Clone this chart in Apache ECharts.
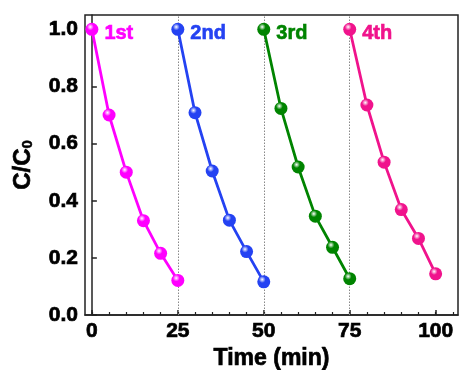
<!DOCTYPE html>
<html>
<head>
<meta charset="utf-8">
<script src="https://cdn.jsdelivr.net/npm/echarts@6/dist/echarts.min.js"></script>
<style>
html,body{margin:0;padding:0;background:#fff;}
#chart{width:459px;height:370px;}
</style>
</head>
<body>
<div id="chart"></div>
<script>
var runNames = ['1st', '2nd', '3rd', '4th'];
var runColors = ['#FF00FF', '#2442F2', '#008400', '#F0138C'];
var times1 = [0, 5, 10, 15, 20, 25];
var vals1 = [1.0, 0.70, 0.50, 0.33, 0.216, 0.121];
var times2 = [25, 30, 35, 40, 45, 50];
var vals2 = [1.0, 0.708, 0.504, 0.332, 0.222, 0.116];
var times3 = [50, 55, 60, 65, 70, 75];
var vals3 = [1.0, 0.723, 0.518, 0.346, 0.237, 0.127];
var times4 = [75, 80, 85, 90, 95, 100];
var vals4 = [1.0, 0.735, 0.535, 0.369, 0.268, 0.144];
var xTickLabels = [0, 25, 50, 75, 100];
var xMinorTicks = [0, 5, 10, 15, 20, 25, 30, 35, 40, 45, 50, 55, 60, 65, 70, 75, 80, 85, 90, 95, 100, 105];
var yTickLabels = [0, 0.2, 0.4, 0.6, 0.8, 1.0];
var dividers = [25, 50, 75];

var allTimes = [times1, times2, times3, times4];
var allVals = [vals1, vals2, vals3, vals4];
var FONT = 'Arial, "Liberation Sans", sans-serif';

function ball(c) {
  return {
    type: 'radial', x: 0.38, y: 0.32, r: 0.75,
    colorStops: [
      {offset: 0, color: '#ffffff'},
      {offset: 0.35, color: c},
      {offset: 1, color: c}
    ]
  };
}

var series = allTimes.map(function (ts, k) {
  var data = ts.map(function (t, i) {
    var d = {value: [t, allVals[k][i]]};
    if (i === 0) {
      d.label = {
        show: true, position: 'right', distance: 6, offset: [0, 4],
        formatter: runNames[k], color: runColors[k],
        fontFamily: FONT, fontWeight: 'bold', fontSize: 20,
        textBorderColor: runColors[k], textBorderWidth: 0.6
      };
    }
    return d;
  });
  var s = {
    type: 'line', data: data, symbol: 'circle', symbolSize: 13,
    lineStyle: {color: runColors[k], width: 2.8},
    itemStyle: {color: ball(runColors[k])},
    z: 3
  };
  if (k === 0) {
    s.markLine = {
      silent: true, symbol: 'none', label: {show: false},
      lineStyle: {type: [1.5, 1.5], color: '#888', width: 1},
      data: dividers.map(function (v) { return {xAxis: v}; }),
      z: 1
    };
  }
  return s;
});

var chart = echarts.init(document.getElementById('chart'), null, {renderer: 'canvas'});
chart.setOption({
  animation: false,
  grid: {left: 85, top: 15, right: 1, bottom: 55, containLabel: false, outerBoundsMode: 'none',
    show: true, borderColor: '#222', borderWidth: 1.5, backgroundColor: 'transparent'},
  xAxis: [{
    type: 'value', min: -2, max: 106.5,
    name: 'Time (min)', nameLocation: 'middle', nameGap: 27,
    nameTextStyle: {fontFamily: FONT, fontWeight: 'bold', fontSize: 23, color: '#000', textBorderColor: '#000', textBorderWidth: 0.7},
    axisLine: {show: true, lineStyle: {color: '#222', width: 1.5}},
    axisTick: {show: true, inside: true, length: 5, customValues: xTickLabels, lineStyle: {color: '#222', width: 1.5}},
    axisLabel: {customValues: xTickLabels, fontFamily: FONT, fontWeight: 'bold', fontSize: 21, color: '#000', margin: 6,
      textBorderColor: '#000', textBorderWidth: 0.7},
    splitLine: {show: false}
  }, {
    type: 'value', min: -2, max: 106.5, position: 'bottom',
    axisLine: {show: false},
    axisTick: {show: true, inside: true, length: 3, customValues: xMinorTicks, lineStyle: {color: '#222', width: 1.2}},
    axisLabel: {show: false},
    splitLine: {show: false}
  }],
  yAxis: {
    type: 'value', min: 0, max: 1.05,
    name: 'C/C{s|0}', nameLocation: 'middle', nameGap: 50, nameRotate: 90,
    nameTextStyle: {fontFamily: FONT, fontWeight: 'bold', fontSize: 24, color: '#000', textBorderColor: '#000', textBorderWidth: 0.7,
      rich: {s: {fontFamily: FONT, fontWeight: 'bold', fontSize: 15, color: '#000', textBorderColor: '#000', textBorderWidth: 0.5, verticalAlign: 'bottom', padding: [9, 0, 0, 0]}}},
    axisLine: {show: true, lineStyle: {color: '#222', width: 1.5}},
    axisTick: {show: true, inside: true, length: 5, customValues: yTickLabels, lineStyle: {color: '#222', width: 1.5}},
    axisLabel: {customValues: yTickLabels, formatter: function (v) { return v.toFixed(1); },
      fontFamily: FONT, fontWeight: 'bold', fontSize: 21, color: '#000', margin: 7,
      textBorderColor: '#000', textBorderWidth: 0.7},
    splitLine: {show: false}
  },
  series: series
});
</script>
</body>
</html>
